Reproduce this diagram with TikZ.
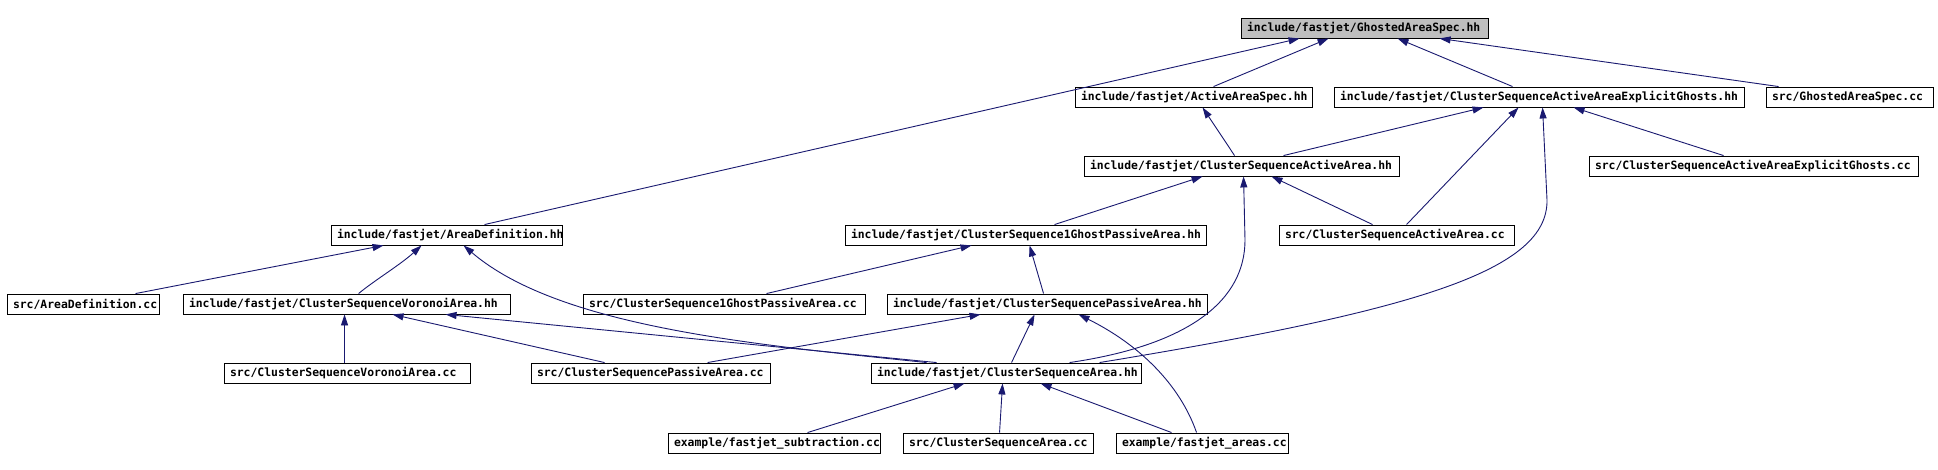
\documentclass[tikz,border=0pt]{standalone}
\usepackage{fontspec}
\setmonofont{DejaVu Sans Mono}
\usetikzlibrary{arrows.meta}
\definecolor{edgeblue}{HTML}{191970}
\definecolor{rootgray}{HTML}{BFBFBF}
\newcommand\boxtext[2]{\makebox[#1pt][l]{\hspace{6pt}#2}}
\tikzset{
  filebox/.style={draw=black, line width=0.9pt, fill=white, inner xsep=0pt, inner ysep=0pt,
    minimum height=20pt, font=\ttfamily\bfseries\fontsize{11.4}{12}\selectfont, anchor=center},
  rootbox/.style={filebox, fill=rootgray},
  edge/.style={draw=edgeblue, line width=0.9pt, -{Triangle[length=11pt,width=7pt]}},
}
\begin{document}
\begin{tikzpicture}[x=1pt,y=-1pt]
\useasboundingbox[fill=white] (0,0) rectangle (1938,470);
% row 1
\node[rootbox] (gas) at (1364.5,28) {\boxtext{247}{include/fastjet/GhostedAreaSpec.hh}};
% row 2
\node[filebox] (aas) at (1193.5,97) {\boxtext{237}{include/fastjet/ActiveAreaSpec.hh}};
\node[filebox] (csaaeg) at (1539,97) {\boxtext{410}{include/fastjet/ClusterSequenceActiveAreaExplicitGhosts.hh}};
\node[filebox] (srcgas) at (1849.5,97) {\boxtext{167}{src/GhostedAreaSpec.cc}};
% row 3
\node[filebox] (csaa) at (1241.5,166) {\boxtext{315}{include/fastjet/ClusterSequenceActiveArea.hh}};
\node[filebox] (srccsaaeg) at (1753.5,166) {\boxtext{329}{src/ClusterSequenceActiveAreaExplicitGhosts.cc}};
% row 4
\node[filebox] (ad) at (446.5,235) {\boxtext{231}{include/fastjet/AreaDefinition.hh}};
\node[filebox] (cs1gpa) at (1025.5,235) {\boxtext{361}{include/fastjet/ClusterSequence1GhostPassiveArea.hh}};
\node[filebox] (srccsaa) at (1396.5,235) {\boxtext{235}{src/ClusterSequenceActiveArea.cc}};
% row 5
\node[filebox] (srcad) at (83,304) {\boxtext{152}{src/AreaDefinition.cc}};
\node[filebox] (csva) at (346.5,304) {\boxtext{327}{include/fastjet/ClusterSequenceVoronoiArea.hh}};
\node[filebox] (srccs1gpa) at (724,304) {\boxtext{282}{src/ClusterSequence1GhostPassiveArea.cc}};
\node[filebox] (cspa) at (1047,304) {\boxtext{320}{include/fastjet/ClusterSequencePassiveArea.hh}};
% row 6
\node[filebox] (srccsva) at (347,373) {\boxtext{246}{src/ClusterSequenceVoronoiArea.cc}};
\node[filebox] (srccspa) at (650.5,373) {\boxtext{239}{src/ClusterSequencePassiveArea.cc}};
\node[filebox] (csarea) at (1006,373) {\boxtext{270}{include/fastjet/ClusterSequenceArea.hh}};
% row 7
\node[filebox] (fjsub) at (774,443) {\boxtext{212}{example/fastjet\_subtraction.cc}};
\node[filebox] (srccsarea) at (998,443) {\boxtext{190}{src/ClusterSequenceArea.cc}};
\node[filebox] (fjareas) at (1202,443) {\boxtext{172}{example/fastjet\_areas.cc}};

% edges to GhostedAreaSpec.hh
\draw[edge] ([xshift=154pt]ad.north west) -- ([xshift=59pt]gas.south west);
\draw[edge] ([xshift=139pt]aas.north west) -- ([xshift=88pt]gas.south west);
\draw[edge] ([xshift=179pt]csaaeg.north west) -- ([xshift=157pt]gas.south west);
\draw[edge] ([xshift=13pt]srcgas.north west) -- ([xshift=199pt]gas.south west);
% edges to ActiveAreaSpec.hh
\draw[edge] ([xshift=151pt]csaa.north west) -- ([xshift=128pt]aas.south west);
% edges to ClusterSequenceActiveAreaExplicitGhosts.hh
\draw[edge] ([xshift=200pt]csaa.north west) -- ([xshift=150pt]csaaeg.south west);
\draw[edge] ([xshift=128pt]srccsaa.north west) -- ([xshift=185pt]csaaeg.south west);
\draw[edge] ([xshift=229pt]csarea.north west) .. controls (1420,310) and (1548,270) .. (1547,200) -- ([xshift=209pt]csaaeg.south west);
\draw[edge] ([xshift=135pt]srccsaaeg.north west) -- ([xshift=240pt]csaaeg.south west);
% edges to ClusterSequenceActiveArea.hh
\draw[edge] ([xshift=210pt]cs1gpa.north west) -- ([xshift=119pt]csaa.south west);
\draw[edge] ([xshift=199pt]csarea.north west) .. controls (1190,345) and (1245,300) .. (1245,240) -- ([xshift=160pt]csaa.south west);
\draw[edge] ([xshift=94pt]srccsaa.north west) -- ([xshift=188pt]csaa.south west);
% edges to AreaDefinition.hh
\draw[edge] ([xshift=129pt]srcad.north west) -- ([xshift=53pt]ad.south west);
\draw[edge] ([xshift=176pt]csva.north west) .. controls (375,280) and (400,265) .. ([xshift=91pt]ad.south west);
\draw[edge] ([xshift=56pt]csarea.north west) .. controls (760,345) and (560,328) .. ([xshift=133pt]ad.south west);
% edges to ClusterSequence1GhostPassiveArea.hh
\draw[edge] ([xshift=184pt]srccs1gpa.north west) -- ([xshift=127pt]cs1gpa.south west);
\draw[edge] ([xshift=157pt]cspa.north west) -- ([xshift=185pt]cs1gpa.south west);
% edges to ClusterSequenceVoronoiArea.hh
\draw[edge] ([xshift=121pt]srccsva.north west) -- ([xshift=162pt]csva.south west);
\draw[edge] ([xshift=74pt]srccspa.north west) -- ([xshift=210pt]csva.south west);
\draw[edge] ([xshift=66pt]csarea.north west) -- ([xshift=263pt]csva.south west);
% edges to ClusterSequencePassiveArea.hh
\draw[edge] ([xshift=177pt]srccspa.north west) -- ([xshift=94pt]cspa.south west);
\draw[edge] ([xshift=141pt]csarea.north west) -- ([xshift=148pt]cspa.south west);
\draw[edge] ([xshift=81pt]fjareas.north west) .. controls (1180,385) and (1140,345) .. ([xshift=192pt]cspa.south west);
% edges to ClusterSequenceArea.hh
\draw[edge] ([xshift=140pt]fjsub.north west) -- ([xshift=94pt]csarea.south west);
\draw[edge] ([xshift=97pt]srccsarea.north west) -- ([xshift=132pt]csarea.south west);
\draw[edge] ([xshift=56pt]fjareas.north west) -- ([xshift=170pt]csarea.south west);
\end{tikzpicture}
\end{document}
